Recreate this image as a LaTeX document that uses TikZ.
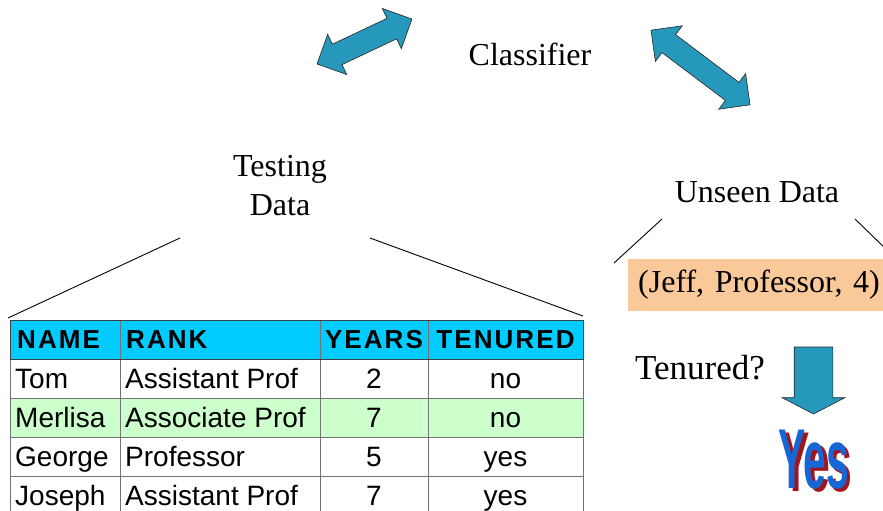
\documentclass[tikz,border=0pt]{standalone}
\usepackage{fontspec}
\usepackage{graphicx}
\usepackage{pdfrender}
\setmainfont{Liberation Serif}
\setsansfont{Liberation Sans}
\usetikzlibrary{shapes.arrows}
\definecolor{arrowblue}{RGB}{38,152,187}
\definecolor{headcyan}{RGB}{0,204,255}
\definecolor{rowgreen}{RGB}{204,255,204}
\definecolor{jeffpeach}{RGB}{250,201,153}
\definecolor{yesblue}{RGB}{22,102,214}
\definecolor{yeslight}{RGB}{150,200,250}
\definecolor{yesred}{RGB}{165,20,25}
% narrow answer word with shadow and light rim
\newcommand{\yesword}{\scalebox{0.48}[1]{Yes}}
\newcommand{\yesfancy}{%
  \rlap{\kern3.5pt\raisebox{-3pt}{\color{yesred}\yesword}}%
  \textpdfrender{TextRenderingMode=FillStroke, LineWidth=2pt,
    StrokeColor=yeslight, FillColor=yesblue}{\color{yesblue}\yesword}}

\begin{document}
\begin{tikzpicture}[x=1pt, y=-1pt,
    label/.style={font=\fontsize{32}{39}\selectfont, align=center, inner sep=0pt},
    twohead/.style={double arrow, draw=black!85, fill=arrowblue, line width=0.6pt,
      inner sep=11pt, double arrow head extend=11pt, minimum height=#1},
    cell/.style={font=\sffamily\fontsize{28}{28}\selectfont, inner sep=0pt,
      text height=20pt, text depth=0pt},
    headcell/.style={cell, text height=18.6pt,
      font=\sffamily\bfseries\fontsize{26}{26}\selectfont\addfontfeatures{LetterSpace=8}},
    tablerule/.style={black!55, line width=0.9pt},
    yestext/.style={font=\sffamily\bfseries\fontsize{85}{85}\selectfont, inner sep=0pt}]
  \useasboundingbox (0,0) rectangle (883,511);
  % classifier and the two double arrows
  \node[label] (clf) at (530,54) {Classifier};
  \node[twohead=105, rotate=25.3] (leftarr) at (364.5,41.5) {};
  \node[twohead=124, rotate=-37] (rightarr) at (700.5,67.5) {};
  % testing data
  \node[label] (test) at (280,186) {Testing\\Data};
  \coordinate (tdl) at (180,238);
  \coordinate (tdr) at (370,238);
  \coordinate (tbl) at (8,318);
  \coordinate (tbr) at (583,316);
  \draw[line width=0.9pt] (tdl) -- (tbl);
  \draw[line width=0.9pt] (tdr) -- (tbr);
  % table
  \fill[headcyan] (10,320) rectangle (583,359);
  \fill[rowgreen] (10,398) rectangle (583,437);
  \foreach \yy in {398,437,476}
    \draw[tablerule] (10,\yy) -- (583,\yy);
  \foreach \xx in {10,120,320,428,583}
    \draw[tablerule] (\xx,320) -- (\xx,515);
  \draw[black!75, line width=1pt] (10,320) rectangle (583,359);
  \node[headcell, anchor=west] (hname) at (17,339.5) {NAME};
  \node[headcell, anchor=west] (hrank) at (126,339.5) {RANK};
  \node[headcell] (hyears) at (374,339.5) {YEARS};
  \node[headcell] (htenured) at (505.5,339.5) {TENURED};
  \foreach \nm/\rk/\yr/\tn [count=\i] in {Tom/Assistant Prof/2/no,
      Merlisa/Associate Prof/7/no, George/Professor/5/yes, Joseph/Assistant Prof/7/yes} {
    \node[cell, anchor=west] (nm\i) at (15,{339.5+39*\i}) {\nm};
    \node[cell, anchor=west] (rk\i) at (125,{339.5+39*\i}) {\rk};
    \node[cell] (yr\i) at (374,{339.5+39*\i}) {\yr};
    \node[cell] (tn\i) at (505.5,{339.5+39*\i}) {\tn};
  }
  % unseen data
  \node[label] (unseen) at (757,192) {Unseen Data};
  \coordinate (udl) at (662,219);
  \coordinate (udr) at (855,219);
  \coordinate (ubl) at (614,263);
  \coordinate (ubr) at (890,253);
  \draw[line width=0.9pt] (udl) -- (ubl);
  \draw[line width=0.9pt] (udr) -- (ubr);
  \node[label, fill=jeffpeach, minimum width=262pt, minimum height=52pt,
    text width=250pt] (jeff) at (759,285) {(Jeff, Professor, 4)};
  % question and answer
  \node[label, font=\fontsize{35}{35}\selectfont] (ask) at (700,368) {Tenured?};
  \node[single arrow, draw=black!85, fill=arrowblue, line width=0.6pt, inner sep=19pt,
    single arrow head extend=12pt, single arrow tip angle=125, minimum height=67pt,
    shape border rotate=270] (downarr) at (813.5,375.5) {};
  \node[yestext, anchor=base] (yes) at (814,488) {\yesfancy};
\end{tikzpicture}
\end{document}
